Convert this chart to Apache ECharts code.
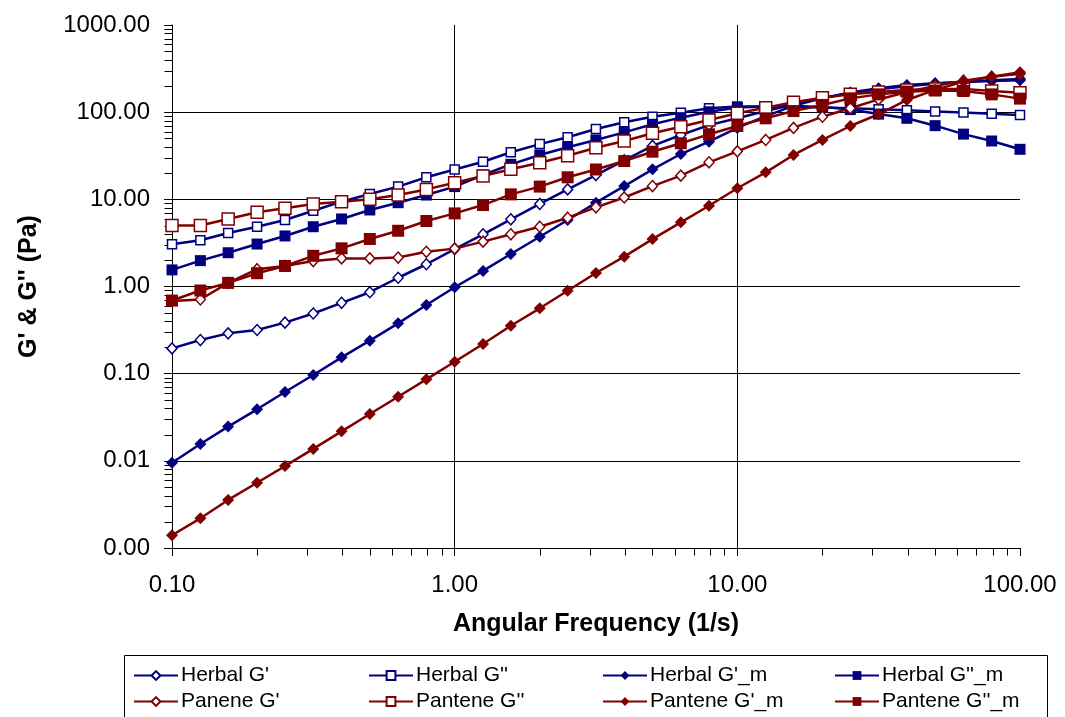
<!DOCTYPE html>
<html>
<head>
<meta charset="utf-8">
<script src="https://cdn.jsdelivr.net/npm/echarts@6/dist/echarts.min.js"></script>
<style>
  html, body { margin: 0; padding: 0; background: #fff; }
  #chart { width: 1065px; height: 717px; }
</style>
</head>
<body>
<div id="chart"></div>
<script>
// angular frequency (1/s), 10 points per decade
const freq = [0.1, 0.126, 0.158, 0.2, 0.251, 0.316, 0.398, 0.501, 0.631, 0.794,
  1, 1.26, 1.58, 2, 2.51, 3.16, 3.98, 5.01, 6.31, 7.94,
  10, 12.6, 15.8, 20, 25.1, 31.6, 39.8, 50.1, 63.1, 79.4, 100];

const herbalG1 = [0.195, 0.243, 0.29, 0.317, 0.385, 0.49, 0.65, 0.86, 1.26, 1.8,
  2.69, 3.97, 5.9, 8.85, 13.0, 19, 28, 41, 54.7, 71,
  85, 103, 122, 145, 165, 183, 198, 212, 224, 233, 240];
const herbalG2 = [3.05, 3.4, 4.1, 4.85, 5.8, 7.4, 9.4, 11.5, 14.0, 17.9,
  22, 27, 34.7, 43, 51.5, 64, 76.5, 88.7, 98.6, 111,
  116, 116, 115, 113, 111, 108, 105, 102, 99, 96, 93];
const herbalG1m = [0.0095, 0.0156, 0.0247, 0.039, 0.0617, 0.0966, 0.154, 0.239, 0.378, 0.614,
  0.98, 1.51, 2.36, 3.72, 5.8, 9.15, 14.2, 22.1, 33.1, 45.8,
  66, 90, 118, 145, 168, 188, 205, 215, 222, 228, 232];
const herbalG2m = [1.55, 1.98, 2.44, 3.07, 3.8, 4.85, 5.95, 7.55, 9.15, 11.2,
  14.0, 19, 25.2, 32.3, 39.5, 48, 58.7, 72.6, 86.5, 101,
  113, 116, 118, 115, 107, 95, 85, 70, 56, 46.7, 37.5];
const panteneG1 = [0.68, 0.71, 1.1, 1.58, 1.72, 1.96, 2.1, 2.1, 2.15, 2.5,
  2.72, 3.27, 3.97, 4.85, 6.15, 8.1, 10.5, 14.2, 18.7, 26.6,
  35.5, 48, 66, 88.7, 111, 140, 170, 200, 230, 255, 275];
const panteneG2 = [5.0, 5.0, 5.95, 7.1, 7.9, 8.85, 9.4, 10.0, 11.2, 13.0,
  15.5, 18.5, 22.1, 26.3, 31.6, 39, 46.7, 57.3, 68, 81.2,
  97, 112.5, 130, 146.5, 160, 170, 180, 185, 185, 175, 167];
const panteneG1m = [0.0014, 0.00219, 0.00356, 0.0056, 0.0087, 0.0137, 0.0218, 0.0345, 0.0544, 0.0861,
  0.137, 0.219, 0.355, 0.562, 0.895, 1.43, 2.2, 3.5, 5.45, 8.45,
  13.4, 20.4, 32.3, 48, 69.4, 94.6, 138, 180, 224, 255, 287];
const panteneG2m = [0.69, 0.9, 1.1, 1.42, 1.72, 2.25, 2.74, 3.51, 4.36, 5.64,
  6.9, 8.6, 11.4, 14.0, 17.9, 22, 27.5, 35.2, 44, 55.7,
  69.4, 85, 103, 121, 144, 160, 172, 177, 175, 160, 143];

// decades used for the minor tick marks (2..9 inside each decade)
const xDecades = [0.1, 1, 10];
const yDecades = [0.001, 0.01, 0.1, 1, 10, 100];

const NAVY = '#000080';
const MAROON = '#800000';
const FONT = 'Liberation Sans';

const minorValues = (decades) => {
  const out = [];
  decades.forEach(d => { for (let m = 2; m <= 9; m++) out.push(+(d * m).toPrecision(3)); });
  return out;
};

const lineSeries = (name, values, color, symbol, size, filled) => ({
  name,
  type: 'line',
  data: freq.map((f, i) => [f, values[i]]),
  symbol,
  symbolSize: size,
  lineStyle: { color, width: 2.5 },
  itemStyle: {
    color: filled ? color : '#fff',
    borderColor: color,
    borderWidth: filled ? 0 : 1.5
  },
  emphasis: { disabled: true }
});

const tickSeries = (isX) => ({
  type: 'custom',
  silent: true,
  clip: false,
  data: isX ? minorValues(xDecades).map(v => [v, 0.001])
            : minorValues(yDecades).map(v => [0.1, v]),
  renderItem: (params, api) => {
    const p = api.coord([api.value(0), api.value(1)]);
    const x = Math.round(p[0]) + 0.5;
    const y = Math.round(p[1]) + 0.5;
    return {
      type: 'line',
      shape: isX ? { x1: x, y1: y, x2: x, y2: y + 7 } : { x1: x - 8, y1: y, x2: x, y2: y },
      style: { stroke: '#000', lineWidth: 1 }
    };
  }
});

const legendCol = (left, names) => ({
  data: names,
  left,
  top: 660,
  orient: 'vertical',
  itemGap: 5,
  itemWidth: 44,
  itemHeight: 11,
  selectedMode: false,
  textStyle: { fontFamily: FONT, fontSize: 21, color: '#000', padding: [0, 0, 0, -2] }
});

const chart = echarts.init(document.getElementById('chart'));
chart.setOption({
  animation: false,
  backgroundColor: '#fff',
  grid: {
    left: 172, top: 25, right: 45, bottom: 169,
    containLabel: false,
    outerBoundsMode: 'none'
  },
  xAxis: {
    type: 'log',
    logBase: 10,
    min: 0.1,
    max: 100,
    name: 'Angular Frequency (1/s)',
    nameLocation: 'middle',
    nameGap: 64,
    nameTextStyle: { fontFamily: FONT, fontSize: 25, fontWeight: 'bold', color: '#000' },
    axisLine: { lineStyle: { color: '#000', width: 1 } },
    axisTick: { show: true, length: 8, lineStyle: { color: '#000' } },
    axisLabel: {
      fontFamily: FONT, fontSize: 24, color: '#000', margin: 25,
      formatter: v => v.toFixed(2)
    },
    splitLine: { show: true, showMinLine: false, showMaxLine: false, lineStyle: { color: '#000', width: 1 } }
  },
  yAxis: {
    type: 'log',
    logBase: 10,
    min: 0.001,
    max: 1000,
    name: 'G\' & G\'\' (Pa)',
    nameLocation: 'middle',
    nameRotate: 90,
    nameGap: 130,
    nameTextStyle: { fontFamily: FONT, fontSize: 25, fontWeight: 'bold', color: '#000' },
    axisLine: { lineStyle: { color: '#000', width: 1 } },
    axisTick: { show: true, length: 8, lineStyle: { color: '#000' } },
    axisLabel: {
      fontFamily: FONT, fontSize: 24, color: '#000', margin: 22,
      formatter: v => v.toFixed(2)
    },
    splitLine: { show: true, showMinLine: false, showMaxLine: false, lineStyle: { color: '#000', width: 1 } }
  },
  legend: [
    legendCol(128, ['Herbal G\'', 'Panene G\'']),
    legendCol(363, ['Herbal G\'\'', 'Pantene G\'\'']),
    legendCol(597, ['Herbal G\'_m', 'Pantene G\'_m']),
    legendCol(829, ['Herbal G\'\'_m', 'Pantene G\'\'_m'])
  ],
  graphic: [{
    type: 'rect',
    shape: { x: 124.5, y: 655.5, width: 923, height: 80 },
    style: { fill: 'none', stroke: '#000', lineWidth: 1 },
    silent: true
  }],
  series: [
    lineSeries('Herbal G\'', herbalG1, NAVY, 'diamond', [10, 11], false),
    lineSeries('Herbal G\'\'', herbalG2, NAVY, 'rect', 9, false),
    lineSeries('Herbal G\'_m', herbalG1m, NAVY, 'diamond', [12, 12], true),
    lineSeries('Herbal G\'\'_m', herbalG2m, NAVY, 'rect', 11, true),
    lineSeries('Panene G\'', panteneG1, MAROON, 'diamond', [10, 11], false),
    lineSeries('Pantene G\'\'', panteneG2, MAROON, 'rect', 12, false),
    lineSeries('Pantene G\'_m', panteneG1m, MAROON, 'diamond', [12, 12], true),
    lineSeries('Pantene G\'\'_m', panteneG2m, MAROON, 'rect', 12, true),
    tickSeries(true),
    tickSeries(false)
  ]
});
</script>
</body>
</html>
